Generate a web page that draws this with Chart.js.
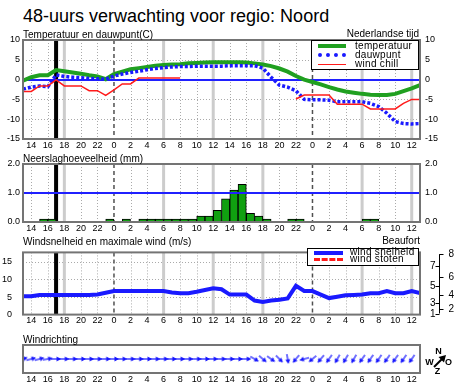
<!DOCTYPE html>
<html>
<head>
<meta charset="utf-8">
<script src="https://cdn.jsdelivr.net/npm/chart.js@4.4.1/dist/chart.umd.min.js"></script>
<style>
  body { margin: 0; background: #fff; font-family: "Liberation Sans", Arial, sans-serif; }
  #wrap { position: relative; width: 458px; height: 390px; overflow: hidden; }
  canvas { position: absolute; left: 0; }
  .t { position: absolute; font-size: 10px; line-height: 10px; white-space: nowrap; color: #000; }
  .lg { position: absolute; background: #fff; border: 1px solid #000; box-sizing: border-box; }
  .s { position: absolute; height: 0; }
</style>
</head>
<body>
<div id="wrap">
  <canvas id="cTemp" width="458" height="125" style="top:28px"></canvas>
  <canvas id="cRain" width="458" height="84" style="top:152px"></canvas>
  <canvas id="cWind" width="458" height="95" style="top:236px"></canvas>
  <canvas id="cDir" width="458" height="54" style="top:333px"></canvas>

  <div class="t" style="left:23px;top:7px;font-size:18px;line-height:18px">48-uurs verwachting voor regio: Noord</div>
  <div class="t" style="left:23px;top:30px">Temperatuur en dauwpunt(C)</div>
  <div class="t" style="right:39px;top:29px">Nederlandse tijd</div>
  <div class="t" style="left:23px;top:153.5px">Neerslaghoeveelheid (mm)</div>
  <div class="t" style="left:23px;top:236.5px">Windsnelheid en maximale wind (m/s)</div>
  <div class="t" style="right:38px;top:236px">Beaufort</div>
  <div class="t" style="left:23px;top:334.5px">Windrichting</div>

  <div class="lg" style="left:311px;top:40px;width:108px;height:30px"></div>
  <div class="s" style="left:318px;top:43.5px;width:28px;border-top:4px solid #20a020"></div>
  <div class="s" style="left:318px;top:52.5px;width:28px;border-top:4px dotted #1a1aff"></div>
  <div class="s" style="left:318px;top:63.5px;width:28px;border-top:1.5px solid #ff1a1a"></div>
  <div class="t" style="left:355px;top:40.5px;letter-spacing:0.3px">temperatuur</div>
  <div class="t" style="left:355px;top:49.5px;letter-spacing:0.3px">dauwpunt</div>
  <div class="t" style="left:355px;top:59px;letter-spacing:0.3px">wind chill</div>

  <div class="lg" style="left:307px;top:248px;width:112px;height:18px"></div>
  <div class="s" style="left:314px;top:250.5px;width:29px;border-top:4px solid #1a1aff"></div>
  <div class="s" style="left:314px;top:257.5px;width:29px;border-top:3px dashed #ff1a1a"></div>
  <div class="t" style="left:350px;top:246.5px;letter-spacing:0.3px">wind snelheid</div>
  <div class="t" style="left:350px;top:254px;letter-spacing:0.3px">wind stoten</div>
</div>

<script>
const hourMin = 13;
const hourMax = 61;
const nowHour = 17;

// uren vanaf 13:00 vandaag (24 = middernacht)
const hours = [13, 14, 15, 16, 17, 18, 19, 20, 21, 22, 23, 24, 25, 26, 27, 28, 29, 30, 31, 32, 33, 34, 35, 36, 37,
  38, 39, 40, 41, 42, 43, 44, 45, 46, 47, 48, 49, 50, 51, 52, 53, 54, 55, 56, 57, 58, 59, 60, 61];
const hourTicks = [14, 16, 18, 20, 22, 24, 26, 28, 30, 32, 34, 36, 38, 40, 42, 44, 46, 48, 50, 52, 54, 56, 58, 60];

const temperatuur = [-0.3, 0.6, 1.1, 1.1, 2.4, 2.1, 1.8, 1.5, 1.1, 0.8, 0.1, 1.4, 2.0, 2.6, 2.9, 3.2, 3.5, 3.7, 3.8,
  3.9, 4.1, 4.2, 4.3, 4.4, 4.4, 4.4, 4.4, 4.3, 4.1, 3.8, 3.4, 2.8, 2.0, 0.9, 0.0, -0.6, -1.2, -1.9, -2.5, -3.0,
  -3.3, -3.6, -3.8, -3.9, -3.9, -3.6, -2.9, -2.2, -1.4];
const dauwpunt = [-2.4, -1.9, -1.6, -1.8, 1.2, 0.8, 0.6, 0.5, 0.3, 0.2, 0.1, 0.9, 1.4, 1.8, 2.1, 2.5, 2.8, 3.0, 3.2,
  3.3, 3.3, 3.4, 3.4, 3.4, 3.4, 3.5, 3.5, 3.5, 3.5, 2.9, 0.6, -1.4, -1.9, -2.8, -5.0, -5.1, -5.1, -5.2, -5.6, -5.6,
  -5.6, -5.6, -6.0, -6.8, -8.5, -10.6, -11.1, -11.2, -11.1];
const windchill = [-3.0, -3.0, -1.6, -1.6, -0.1, -1.6, -1.6, -1.6, -2.8, -2.8, -4.0, -2.6, -1.1, -1.1, 0.4, 0.4, 0.4,
  0.4, 0.4, 0.4, null, null, null, null, null, null, null, null, null, null, null, null, null, -4.9, -3.9, -3.9,
  -3.9, -3.9, -6.2, -6.2, -6.2, -6.2, -7.4, -7.4, -7.4, -7.4, -6.0, -5.0, -5.0];

// neerslag per uur, 13-14 t/m 60-61
const rainHours = [13, 14, 15, 16, 17, 18, 19, 20, 21, 22, 23, 24, 25, 26, 27, 28, 29, 30, 31, 32, 33, 34, 35, 36,
  37, 38, 39, 40, 41, 42, 43, 44, 45, 46, 47, 48, 49, 50, 51, 52, 53, 54, 55, 56, 57, 58, 59, 60];
const neerslag = [0, 0, 0.1, 0.1, 0, 0, 0, 0, 0, 0, 0.1, 0, 0.1, 0, 0.1, 0.1, 0.1, 0.1, 0.1, 0.1, 0.1, 0.2, 0.2,
  0.4, 0.8, 1.1, 1.3, 0.3, 0.2, 0.1, 0, 0, 0.1, 0.1, 0, 0, 0, 0, 0, 0, 0, 0.1, 0.1, 0, 0, 0, 0, 0];

const windsnelheid = [5.2, 5.2, 5.6, 5.6, 5.6, 5.6, 5.6, 5.6, 5.6, 5.7, 6.2, 6.7, 6.7, 6.7, 6.7, 6.7, 6.7, 6.7, 6.3,
  6.1, 6.1, 6.5, 7.0, 7.5, 7.2, 5.7, 5.7, 5.7, 4.0, 3.6, 4.0, 4.2, 4.6, 8.2, 6.7, 6.7, 5.7, 4.7, 5.1, 5.5, 5.6,
  5.7, 6.1, 6.1, 6.7, 6.1, 6.1, 6.7, 6.1];

// windrichting (waar de wind vandaan komt, graden), 13 t/m 60
const windrichting = [250, 255, 255, 260, 270, 270, 270, 270, 270, 270, 270, 270, 270, 270, 270, 270, 270, 270, 270,
  270, 270, 270, 270, 270, 270, 270, 270, 270, 300, 310, 305, 315, 350, 40, 75, 50, 40, 35, 30, 30, 30, 35, 35,
  35, 35, 35, 35, 35];

const tempTicks = [-15, -10, -5, 0, 5, 10];
const rainTicks = [0, 1, 2];
const windTicks = [0, 5, 10, 15];
const bftLimits = [0.3, 1.6, 3.4, 5.5, 8.0, 10.8, 13.9, 17.2];
const bftLabels = [1, 2, 3, 4, 5, 6, 7, 8];

Chart.defaults.font.family = '"Liberation Sans", Arial, sans-serif';
Chart.defaults.font.size = 9;
Chart.defaults.color = '#000';
Chart.defaults.animation = false;

function line(ctx, x1, y1, x2, y2) {
  ctx.beginPath();
  ctx.moveTo(x1, y1);
  ctx.lineTo(x2, y2);
  ctx.stroke();
}

function drawRef(chart, o) {
  const {ctx, chartArea: a} = chart;
  const y = chart.scales.y;
  ctx.save();
  ctx.strokeStyle = '#2020ff';
  ctx.lineWidth = 2;
  (o.refLines || []).forEach(v => {
    const py = Math.round(y.getPixelForValue(v));
    line(ctx, a.left, py, a.right, py);
  });
  ctx.restore();
}

const decor = {
  id: 'decor',
  beforeDatasetsDraw(chart, args, o) {
    const {ctx, chartArea: a} = chart;
    const x = chart.scales.x;
    const y = chart.scales.y;
    ctx.save();
    ctx.beginPath();
    ctx.rect(a.left, a.top, a.width, a.height);
    ctx.clip();
    if (o.grid) {
      ctx.strokeStyle = '#aaaaaa';
      ctx.lineWidth = 1;
      ctx.setLineDash([1, 2]);
      (o.hLines || []).forEach(v => {
        const py = Math.round(y.getPixelForValue(v)) + 0.5;
        line(ctx, a.left, py, a.right, py);
      });
      hourTicks.forEach(h => {
        if (h % 24 === 0) return;
        let px = x.getPixelForValue(h);
        if (h % 6 === 0) {
          ctx.setLineDash([]);
          ctx.strokeStyle = '#cccccc';
          ctx.lineWidth = 3;
        } else {
          ctx.setLineDash([1, 2]);
          ctx.strokeStyle = '#aaaaaa';
          ctx.lineWidth = 1;
          px = Math.round(px) + 0.5;
        }
        line(ctx, px, a.top, px, a.bottom);
      });
      ctx.setLineDash([4, 3]);
      ctx.strokeStyle = '#505050';
      ctx.lineWidth = 1.5;
      hourTicks.filter(h => h % 24 === 0).forEach(h => {
        const px = x.getPixelForValue(h);
        line(ctx, px, a.top, px, a.bottom);
      });
      ctx.setLineDash([]);
      ctx.strokeStyle = '#000';
      ctx.lineWidth = 4;
      const nx = x.getPixelForValue(nowHour);
      line(ctx, nx, a.top, nx, a.bottom);
    }
    ctx.restore();
    if (!o.refOnTop) drawRef(chart, o);
  },
  afterDatasetsDraw(chart, args, o) {
    const {ctx, chartArea: a} = chart;
    if (o.refOnTop) drawRef(chart, o);
    ctx.save();
    ctx.strokeStyle = '#747474';
    ctx.lineWidth = 2;
    ctx.strokeRect(a.left, a.top, a.width, a.height);
    ctx.restore();
  }
};

const beaufort = {
  id: 'beaufort',
  afterDraw(chart) {
    const {ctx} = chart;
    const y = chart.scales.y;
    const ax = 439.5;
    ctx.save();
    ctx.strokeStyle = '#000';
    ctx.fillStyle = '#000';
    ctx.lineWidth = 1;
    ctx.font = '10px "Liberation Sans", Arial, sans-serif';
    ctx.textBaseline = 'middle';
    line(ctx, ax, y.getPixelForValue(bftLimits[0]), ax, y.getPixelForValue(bftLimits[bftLimits.length - 1]));
    bftLimits.forEach((v, i) => {
      const py = Math.round(y.getPixelForValue(v)) + 0.5;
      const n = bftLabels[i];
      if (n % 2) {
        line(ctx, ax - 4, py, ax, py);
        ctx.textAlign = 'right';
        ctx.fillText(n, ax - 4, py);
      } else {
        line(ctx, ax, py, ax + 4, py);
        ctx.textAlign = 'left';
        ctx.fillText(n, ax + 9, py);
      }
    });
    ctx.restore();
  }
};

const compass = {
  id: 'compass',
  afterDraw(chart) {
    const {ctx} = chart;
    const top = 333;
    ctx.save();
    ctx.fillStyle = '#000';
    ctx.strokeStyle = '#000';
    ctx.font = 'bold 9px "Liberation Sans", Arial, sans-serif';
    ctx.textAlign = 'center';
    ctx.textBaseline = 'middle';
    ctx.fillText('N', 438.5, 351.5 - top);
    ctx.fillText('W', 429.5, 363 - top);
    ctx.fillText('O', 448.5, 363 - top);
    ctx.fillText('Z', 437.5, 371.5 - top);
    ctx.lineWidth = 2;
    line(ctx, 434, 367 - top, 442, 359 - top);
    ctx.beginPath();
    ctx.moveTo(446, 355 - top);
    ctx.lineTo(438.5, 357 - top);
    ctx.lineTo(444, 362.5 - top);
    ctx.closePath();
    ctx.fill();
    ctx.restore();
  }
};

function xAxis() {
  return {
    type: 'linear',
    min: hourMin,
    max: hourMax,
    offset: false,
    grid: {display: false, drawTicks: false},
    border: {display: false},
    afterBuildTicks: s => { s.ticks = hourTicks.map(v => ({value: v})); },
    afterFit: s => { s.height = 14; },
    ticks: {autoSkip: false, maxRotation: 0, padding: 1, callback: v => v % 24}
  };
}

function yAxis(ticks, min, max, pos, pad, fmt, show) {
  return {
    type: 'linear',
    position: pos,
    min: min,
    max: max,
    grid: {display: false, drawTicks: false},
    border: {display: false},
    afterBuildTicks: s => { s.ticks = ticks.map(v => ({value: v})); },
    afterFit: s => { s.width = pos === 'left' ? 23 : 38; },
    ticks: {display: show !== false, padding: pad, callback: fmt || (v => v)}
  };
}

const common = {
  responsive: false,
  layout: {padding: {top: 12, left: 0, right: 0, bottom: 0}},
  plugins: {legend: {display: false}, tooltip: {enabled: false}}
};

new Chart(document.getElementById('cTemp'), {
  type: 'line',
  data: {
    labels: hours,
    datasets: [
      {label: 'wind chill', data: windchill, borderColor: '#ff1a1a', borderWidth: 1.5, pointRadius: 0},
      {label: 'dauwpunt', data: dauwpunt, borderColor: '#1a1aff', borderWidth: 3.5, borderDash: [3, 2], pointRadius: 0},
      {label: 'temperatuur', data: temperatuur, borderColor: '#20a020', borderWidth: 4, pointRadius: 0}
    ]
  },
  options: {
    ...common,
    scales: {
      x: xAxis(),
      y: yAxis(tempTicks, -15, 10, 'left', 3),
      y2: yAxis(tempTicks, -15, 10, 'right', 5)
    },
    plugins: {...common.plugins, decor: {grid: true, hLines: [-10, -5, 5], refLines: [0]}}
  },
  plugins: [decor]
});

new Chart(document.getElementById('cRain'), {
  type: 'bar',
  data: {
    labels: rainHours.map(h => h + 0.5),
    datasets: [{
      label: 'neerslag',
      data: neerslag,
      backgroundColor: '#10a010',
      borderColor: '#000',
      borderWidth: c => (c.raw > 0 ? 1 : 0),
      borderSkipped: false,
      barPercentage: 1,
      categoryPercentage: 1
    }]
  },
  options: {
    ...common,
    scales: {
      x: xAxis(),
      y: yAxis(rainTicks, 0, 2, 'left', 3, v => v.toFixed(1)),
      y2: yAxis(rainTicks, 0, 2, 'right', 5, v => v.toFixed(1))
    },
    plugins: {...common.plugins, decor: {grid: true, hLines: [], refLines: [1], refOnTop: true}}
  },
  plugins: [decor]
});

new Chart(document.getElementById('cWind'), {
  type: 'line',
  data: {
    labels: hours,
    datasets: [
      {label: 'wind snelheid', data: windsnelheid, borderColor: '#1a1aff', borderWidth: 4, pointRadius: 0}
    ]
  },
  options: {
    ...common,
    scales: {
      x: xAxis(),
      y: yAxis(windTicks, 0, 17.7, 'left', 11),
      y2: yAxis(windTicks, 0, 17.7, 'right', 5, null, false)
    },
    plugins: {...common.plugins, decor: {grid: true, hLines: [5, 10, 15], refLines: []}}
  },
  plugins: [decor, beaufort]
});

function makeArrow() {
  const c = document.createElement('canvas');
  c.width = 10;
  c.height = 8;
  const g = c.getContext('2d');
  g.strokeStyle = '#1414ff';
  g.fillStyle = '#1414ff';
  g.lineWidth = 1.2;
  line(g, 0, 4, 6, 4);
  g.beginPath();
  g.moveTo(10, 4);
  g.lineTo(5.5, 1.5);
  g.lineTo(5.5, 6.5);
  g.closePath();
  g.fill();
  return c;
}

const arrow = makeArrow();

new Chart(document.getElementById('cDir'), {
  type: 'line',
  data: {
    labels: rainHours,
    datasets: [{
      label: 'windrichting',
      data: windrichting.map(() => 0),
      showLine: false,
      pointStyle: arrow,
      pointRadius: 4,
      pointRotation: windrichting.map(d => d + 90)
    }]
  },
  options: {
    ...common,
    layout: {padding: {top: 12, left: 23, right: 38, bottom: 0}},
    scales: {
      x: xAxis(),
      y: {display: false, min: -1, max: 1}
    },
    plugins: {...common.plugins, decor: {grid: false}}
  },
  plugins: [decor, compass]
});
</script>
</body>
</html>
